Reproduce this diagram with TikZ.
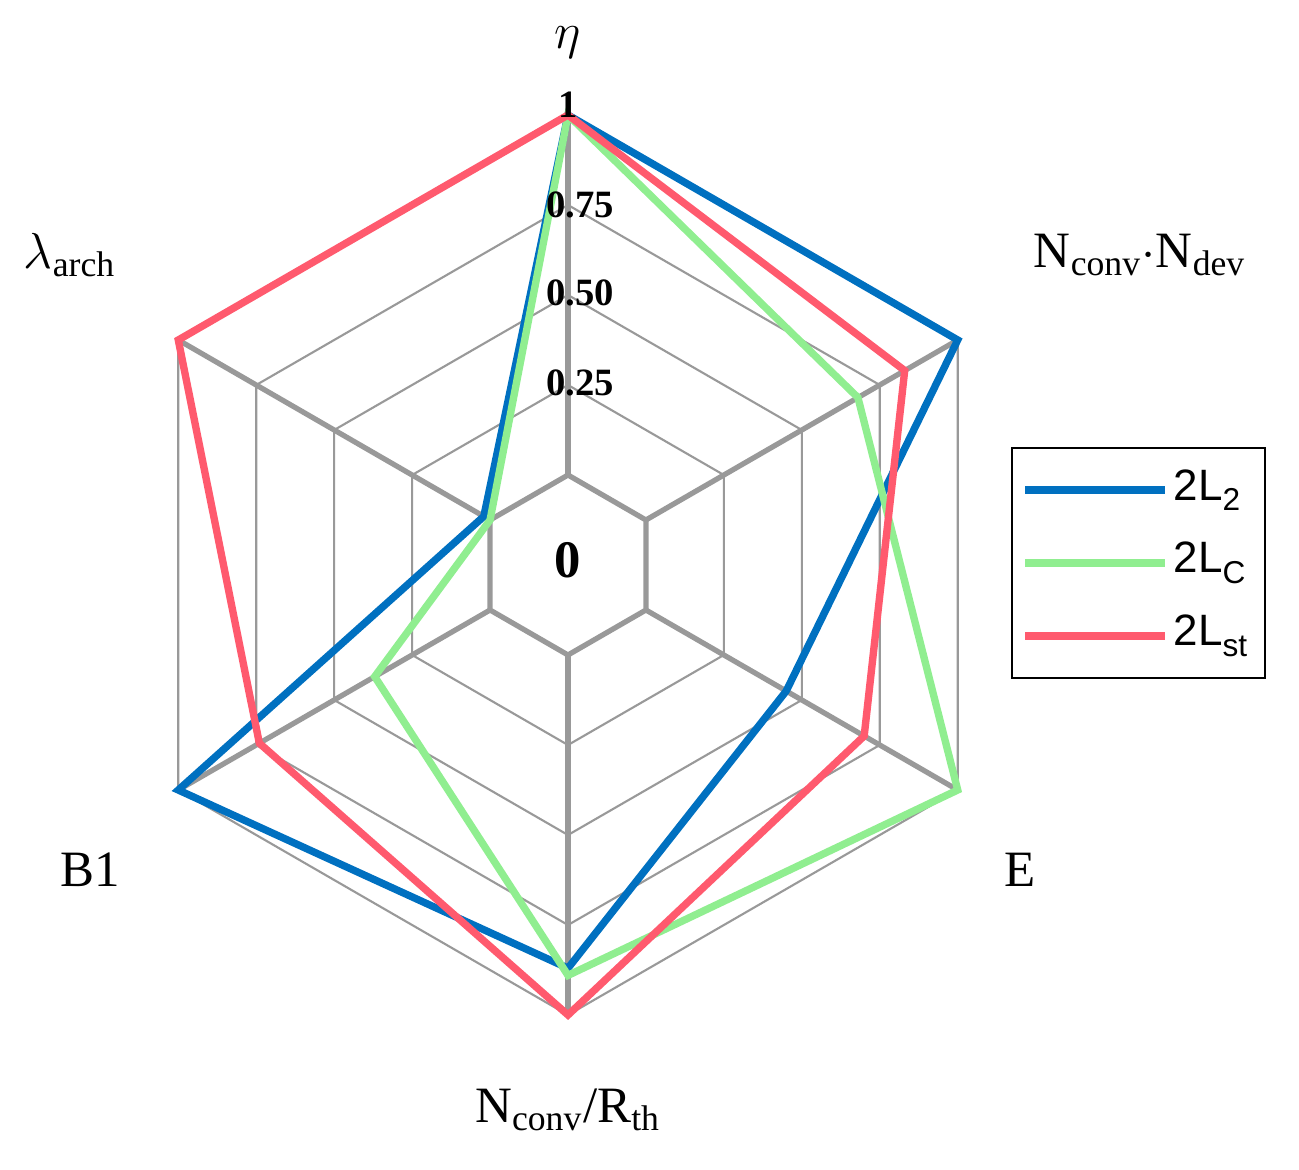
\documentclass[tikz,border=0pt]{standalone}
\usepackage{fontspec}
\setmainfont{Liberation Serif}
\newfontfamily\legendfont{Liberation Sans}
\definecolor{serA}{RGB}{0,112,192}
\definecolor{serB}{RGB}{144,238,144}
\definecolor{serC}{RGB}{255,90,110}
\tikzstyle{axis} = [draw,line width=1.5pt,black!40]
\tikzstyle{ring} = [draw,line width=0.6pt,black!40]
\tikzstyle{series} = [draw,line width=2.1pt,line join=miter]
\tikzstyle{tick} = [font=\fontsize{11}{11}\selectfont\bfseries,inner sep=0pt]
\tikzstyle{axlabel} = [font=\fontsize{14.5}{14.5}\selectfont,inner sep=0pt]
\begin{document}
\begin{tikzpicture}
    \useasboundingbox (-5.68,-6.04) rectangle (7.31,5.65);
    % grid
    \foreach \r in {1.8,2.7,3.6,4.5}
        \path[ring] (90:\r) -- (30:\r) -- (-30:\r) -- (-90:\r) -- (-150:\r) -- (150:\r) -- cycle;
    \path[axis] (90:0.9) -- (30:0.9) -- (-30:0.9) -- (-90:0.9) -- (-150:0.9) -- (150:0.9) -- cycle;
    \foreach \a in {90,30,-30,-90,-150,150}
        \path[axis] (\a:0.9) -- (\a:4.5);

    % series: values on axes eta, NN, E, NR, B1, lambda
    \foreach \n/\col/\va/\vb/\vc/\vd/\ve/\vf in {a/serA/1/1/0.45/0.87/1/0.02,
                                                 b/serB/1/0.68/1/0.89/0.37/0,
                                                 c/serC/1/0.83/0.70/1/0.74/1} {
        \coordinate (\n1) at (90:0.9+3.6*\va);
        \coordinate (\n2) at (30:0.9+3.6*\vb);
        \coordinate (\n3) at (-30:0.9+3.6*\vc);
        \coordinate (\n4) at (-90:0.9+3.6*\vd);
        \coordinate (\n5) at (-150:0.9+3.6*\ve);
        \coordinate (\n6) at (150:0.9+3.6*\vf);
        \path[series,\col] (\n1) -- (\n2) -- (\n3) -- (\n4) -- (\n5) -- (\n6) -- cycle;
    }

    % ticks
    \node[tick] (t1) at (0,4.6) {1};
    \node[tick] (t75) at (0.12,3.6) {0.75};
    \node[tick] (t50) at (0.12,2.72) {0.50};
    \node[tick] (t25) at (0.12,1.82) {0.25};
    \node[tick,font=\fontsize{15}{15}\selectfont\bfseries] (t0) at (0,0.05) {0};

    % axis labels
    \node[axlabel] (eta) at (0,5.22) {$\eta$};
    \node[axlabel] (nn) at (5.72,3.1) {N$_\mathrm{conv}\cdot$N$_\mathrm{dev}$};
    \node[axlabel] (en) at (4.52,-3.05) {E};
    \node[axlabel] (nr) at (0,-5.45) {N$_\mathrm{conv}$/R$_\mathrm{th}$};
    \node[axlabel] (b1) at (-4.78,-3.05) {B1};
    \node[axlabel] (la) at (-4.98,3.1) {$\lambda_\mathrm{arch}$};

    % legend
    \draw[line width=0.8pt] (4.44,1.17) rectangle (6.97,-1.13);
    \foreach \n/\col/\txt/\y in {la/serA/2/0.75, lb/serB/C/0.02, lc/serC/st/-0.71} {
        \coordinate (\n s) at (4.57,\y);
        \coordinate (\n e) at (5.97,\y);
        \path[series,\col] (\n s) -- (\n e);
        \node[anchor=west,inner sep=0pt,font=\legendfont\fontsize{12.5}{12.5}\selectfont] (\n t) at (6.05,\y)
            {2L\raisebox{-0.45ex}{\fontsize{9}{9}\selectfont\txt}};
    }
\end{tikzpicture}
\end{document}
